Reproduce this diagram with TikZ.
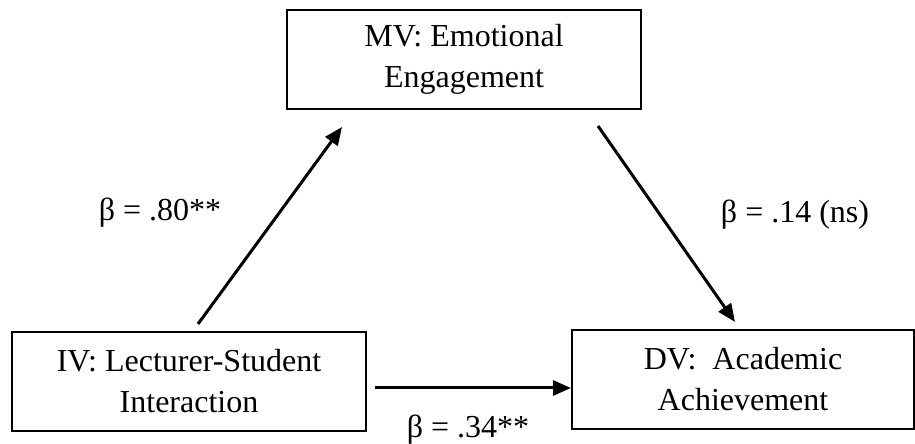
\documentclass[tikz,border=0pt]{standalone}
\usepackage{fontspec}
\setmainfont{Liberation Serif}
\usetikzlibrary{arrows.meta}
\begin{document}
\begin{tikzpicture}[x=1pt,y=1pt,
    var/.style={draw,line width=2pt,align=center,inner sep=0pt,
      minimum width=354pt,minimum height=99pt,
      font=\fontsize{32}{41}\selectfont},
    effect/.style={line width=3pt,-{Triangle[length=18pt,width=15pt]}},
    coef/.style={font=\fontsize{32}{38}\selectfont}]
  \useasboundingbox (0,0) rectangle (915,444);
  \draw
    (464,384.5) node[var] (mv){MV: Emotional\\Engagement}
    (189,62.5) node[var] (iv){IV: Lecturer-Student\\Interaction}
    (743,64.5) node[var,minimum width=342pt] (dv){DV:\ \ Academic\\Achievement};
  % free ends of the paths
  \coordinate (a1s) at ([xshift=9pt,yshift=7pt]iv.north);
  \coordinate (a1e) at ([xshift=-122pt,yshift=-17pt]mv.south);
  \coordinate (a2s) at ([xshift=134pt,yshift=-16pt]mv.south);
  \coordinate (a2e) at ([xshift=-8pt,yshift=7pt]dv.north);
  \coordinate (a3s) at ([xshift=8pt,yshift=-6.5pt]iv.east);
  \coordinate (a3e) at ([yshift=-8.5pt]dv.west);
  \begin{scope}[effect]
    \draw (a1s) to (a1e);
    \draw (a2s) to (a2e);
    \draw (a3s) to (a3e);
  \end{scope}
  \node[coef] (b1) at (160,231) {β = .80**};
  \node[coef] (b2) at (795,229) {β = .14 (ns)};
  \node[coef,anchor=base] (b3) at (468,6) {β = .34**};
\end{tikzpicture}
\end{document}
